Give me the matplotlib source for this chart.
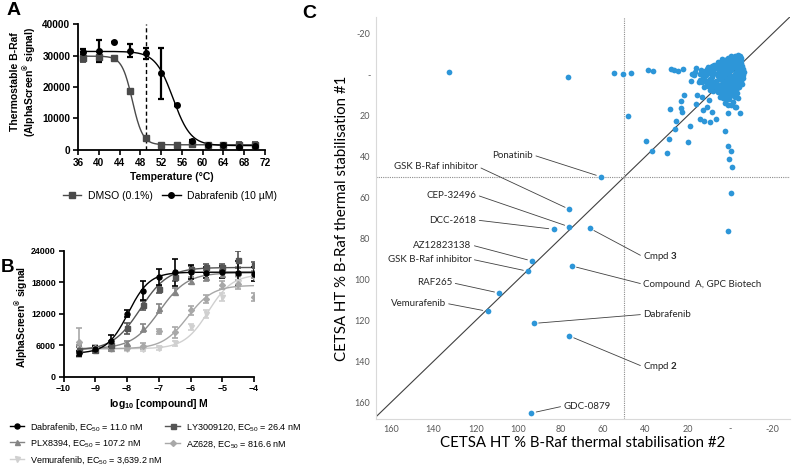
import numpy as np
import matplotlib.pyplot as plt
from matplotlib.lines import Line2D

plt.rcParams['font.family'] = 'Liberation Sans'
plt.rcParams['mathtext.fontset'] = 'custom'
plt.rcParams['mathtext.rm'] = 'Liberation Sans'
plt.rcParams['mathtext.bf'] = 'Lato:bold'

# ---- Panel A: thermal melt curves ----
temps = [37, 40, 43, 46, 49, 52, 55, 58, 61, 64, 67, 70]
dmso = [29300, 29600, 29300, 18800, 3700, 1600, 1600, 1800, 1600, 1700, 1600, 1600]
dmso_err = [1500, 1500, 300, 400, 300, 300, 200, 600, 300, 300, 800, 800]
dabra = [31200, 31500, 34200, 31500, 30700, 24300, 14300, 2900, 1600, 1700, 1000, 1200]
dabra_err = [1000, 3500, 0, 2000, 1700, 8000, 300, 300, 300, 300, 300, 300]
# Boltzmann fit parameters (top, bottom, Tm, slope)
dmso_fit = (29800, 1650, 46.45, 1.0)
dabra_fit = (31300, 1400, 54.3, 1.7)
tm_line = 49

# ---- Panel B: dose response ----
log_conc = [-9.5, -9, -8.5, -8, -7.5, -7, -6.5, -6, -5.5, -5, -4.5, -4]
dab_b = [4400, 5300, 6800, 12000, 16400, 19000, 19900, 19900, 19800, 19900, 19700, 19600]
dab_b_err = [400, 500, 1200, 600, 1800, 1500, 2600, 1300, 1000, 1200, 2300, 1300]
ly_b = [5100, 5000, 6000, 9200, 13600, 16600, 19000, 20500, 20900, 20800, 22300, 21300]
ly_b_err = [500, 500, 800, 1000, 900, 700, 800, 600, 500, 600, 1600, 500]
plx_b = [5400, 5300, 5500, 6300, 9200, 13000, 16200, 18300, 19000, 19500, 20000, 19500]
plx_b_err = [600, 500, 600, 500, 800, 900, 700, 600, 700, 800, 900, 700]
az_b = [6500, 5500, 5400, 5500, 5800, 8600, 8400, 12600, 14800, 17400, 17600, 15200]
az_b_err = [2800, 600, 500, 500, 500, 500, 1000, 800, 800, 800, 900, 700]
vem_b = [5300, 5200, 5300, 5300, 5300, 5400, 6300, 9500, 11900, 15200, 18000, 19000]
vem_b_err = [500, 400, 400, 400, 400, 400, 500, 600, 700, 800, 900, 800]
# 4PL fits (bottom, top, logEC50, hill)
fits_b = [(4400, 19900, -7.96, 1.3), (5000, 20800, -7.58, 1.0), (5300, 19800, -6.97, 1.0),
          (5300, 17400, -6.09, 1.1), (5300, 19500, -5.44, 1.15)]
names_b = ["Dabrafenib, EC$_{\\mathregular{50}}$ = 11.0 nM", "LY3009120, EC$_{\\mathregular{50}}$ = 26.4 nM",
           "PLX8394, EC$_{\\mathregular{50}}$ = 107.2 nM", "AZ628, EC$_{\\mathregular{50}}$ = 816.6 nM",
           "Vemurafenib, EC$_{\\mathregular{50}}$ = 3,639.2 nM"]

# ---- Panel C: CETSA HT screen ----
# dense cluster of inactive compounds near the origin
cluster_x2 = [-4.5, -3.0, -1.5, -5.0, -2.5, 0.0, 1.5, -4.0, -1.0, 3.0, -5.5, 0.8, 4.5, -2.5, 6.0, 2.5,
              -0.5, -4.5, 8.0, 4.0, 10.0, 1.5, -2.0, 6.5, -6.0, 11.5, 3.0, 0.0, 8.5, -3.5, 5.0, 1.5,
              12.0, -1.0, -5.0, 7.0, 3.5, 10.0, 0.5, -2.5, 5.5, 8.0, 2.0, -4.0, 12.5, -0.5, 4.0, 9.5,
              1.5, 6.0, -2.0, 3.0, 0.0, 5.0, -3.5, 2.0, -1.0, 1.0, -2.5, 7.5, 16.0, 14.0, 13.0, 15.0,
              9.5, 11.0, 17.0, -3.0, 2.0, 6.0,
              -3.8, -2.0, -0.5, 1.0, 2.5, -4.8, -3.2, -1.8, 0.8, 3.8, 5.2, -5.2, -3.0, 1.8, 3.5, -1.5,
              -4.0, 5.5, 7.0, 9.0, 2.0, -5.8, -2.8, 0.5, 4.8, 8.0, -1.2, -4.8, 2.5, 6.0, 9.5, -2.0,
              0.0, 4.0, -3.8, 1.5, 6.5, -1.5, -5.5, 8.5, 2.8, -0.8, 3.5, 7.0, 10.5, -3.0, 1.0, 5.0,
              -1.5, 2.5, 8.0, 0.5, -3.0, 4.5, 1.5, -1.0, 3.5, 0.5, -2.0, 2.5, -0.5, 13.5, 11.0, 14.5,
              12.0, 10.5, 8.5, 6.0, 4.0, -4.2, -5.8, -6.2]
cluster_y1 = [-9.0, -8.5, -8.0, -7.0, -6.8, -6.5, -5.8, -5.5, -5.0, -4.8, -4.0, -3.8, -3.5, -3.2, -2.8,
              -2.5, -2.0, -1.8, -1.5, -1.2, -0.8, -0.5, -0.3, 0.0, 0.3, 0.5, 0.8, 1.0, 1.3, 1.5, 2.0,
              2.3, 2.5, 2.8, 3.0, 3.2, 3.8, 4.0, 4.2, 4.5, 5.0, 5.5, 5.8, 6.0, 6.2, 6.8, 7.0, 7.5,
              8.0, 8.5, 8.8, 9.5, 10.5, 11.0, 11.5, 12.5, 13.5, 15.0, 16.0, -4.5, -3.0, -2.0, 1.0,
              3.5, -3.0, -2.5, 0.5, -7.5, -7.0, -6.0,
              -9.5, -9.2, -8.8, -8.0, -7.2, -8.0, -7.5, -6.0, -5.2, -6.0, -5.0, -5.8, -4.5, -4.2, -3.0,
              -3.5, -3.0, -1.8, -3.5, -2.5, -1.5, -2.5, -1.0, 0.0, 0.5, -0.2, 0.8, 1.0, 1.5, 1.0, 2.0,
              2.0, 2.5, 2.8, 3.5, 3.5, 4.5, 3.8, 4.8, 3.5, 4.8, 5.5, 6.0, 6.5, 5.5, 6.8, 6.5, 7.8,
              7.5, 7.2, 8.0, 8.8, 9.2, 9.0, 9.8, 9.5, 11.5, 12.0, 11.0, 13.8, 14.8, 3.5, 4.5, 0.0,
              -1.5, -3.5, -4.0, -5.5, -7.5, -0.5, 1.8, -1.0]
# scattered hits
other_x2 = [132.5, 76.4, 54.8, 50.5, 47.0, 38.7, 36.4, 28.2, 26.6, 24.6, 22.1, 18.0, 16.8, 18.6,
            14.4, 12.8, 21.9, 23.3, 28.5, 23.3, 23.0, 16.4, 25.8, 26.2, 18.8, 14.4, 12.5, 9.5, 6.7,
            12.8, 11.2, 8.7, 15.9, 13.3, 10.0, 48.4, 39.8, 37.0, 28.9, 29.8, 20.2, 2.5, 1.2, -0.2,
            0.6, -0.7, -0.1, 1.3, 1.3, -4.4, -2.1]
other_y1 = [-1.3, 1.1, -0.8, -0.2, -0.8, -2.3, -1.7, -2.5, -2.3, -1.8, -2.6, -0.2, -1.0, 3.1,
            2.7, -0.8, 9.9, 12.8, 16.9, 16.2, 18.3, 14.6, 22.6, 26.8, 25.0, 21.9, 22.6, 23.2, 21.9,
            17.3, 15.7, 18.2, 10.0, 10.9, 12.5, 20.3, 32.3, 37.2, 31.6, 38.2, 33.1, 27.6, 34.8, 37.3,
            41.2, 45.1, 57.7, 76.3, 19.0, 18.7, 15.7]
# labelled compounds
lab_names = ["Ponatinib", "GSK B-Raf inhibitor", "CEP-32496", "DCC-2618", "AZ12823138",
             "GSK B-Raf inhibitor", "RAF265", "Vemurafenib", "Cmpd $\\mathbf{3}$",
             "Compound  A, GPC Biotech", "Dabrafenib", "Cmpd $\\mathbf{2}$", "GDC-0879"]
lab_x2 = [61.0, 75.8, 75.9, 83.3, 93.4, 95.3, 108.9, 114.4, 66.3, 74.7, 92.6, 75.9, 93.7]
lab_y1 = [49.9, 65.8, 74.3, 75.5, 91.0, 96.0, 106.6, 115.5, 75.0, 93.4, 121.4, 127.5, 165.1]
# where each label text sits (data coords) and which side it is anchored
lab_text_pos = [(92.9, 39.3), (118.8, 45.0), (119.6, 58.8), (119.6, 71.0), (121.9, 83.2),
                (121.9, 90.1), (130.9, 101.6), (134.0, 111.6), (41.1, 88.9), (41.1, 102.3),
                (41.1, 117.0), (41.1, 142.5), (78.7, 161.7)]
lab_ha = ["right"] * 8 + ["left"] * 5
threshold = 50

fig = plt.figure(figsize=(7.93, 4.68), dpi=100)


def boltzmann(t, top, bottom, tm, slope):
    return bottom + (top - bottom) / (1 + np.exp((t - tm) / slope))


def four_pl(x, bottom, top, logec50, hill):
    return bottom + (top - bottom) / (1 + 10 ** ((logec50 - x) * hill))


def prism_axes(ax, labelsize=7.2):
    for s in ['top', 'right']:
        ax.spines[s].set_visible(False)
    for s in ['left', 'bottom']:
        ax.spines[s].set_linewidth(1.3)
    ax.tick_params(direction='out', length=3.5, width=1.2, labelsize=labelsize, pad=2)
    for lbl in ax.get_xticklabels() + ax.get_yticklabels():
        lbl.set_fontweight('bold')


# Panel A
axA = fig.add_axes([0.0984, 0.6795, 0.2358, 0.2692])
tt = np.linspace(36.5, 70.5, 300)
c_dmso = '#4a4a4a'
axA.plot(tt, boltzmann(tt, *dmso_fit), color=c_dmso, lw=1.0)
axA.plot(tt, boltzmann(tt, *dabra_fit), color='black', lw=1.0)
axA.errorbar(temps, dmso, yerr=dmso_err, fmt='s', color=c_dmso, ms=4, capsize=2.5, elinewidth=1.3, capthick=1.3)
axA.errorbar(temps, dabra, yerr=dabra_err, fmt='o', color='black', ms=4, capsize=2.5, elinewidth=1.6, capthick=1.6)
axA.axvline(tm_line, color='black', ls=(0, (3, 2)), lw=1.0)
axA.set_xlim(36, 72)
axA.set_ylim(0, 40000)
axA.set_xticks(range(36, 73, 4))
axA.set_yticks(range(0, 40001, 10000))
prism_axes(axA)
axA.set_xlabel('Temperature (°C)', fontsize=7.5, fontweight='bold', labelpad=3)
axA.set_ylabel('Thermostable B-Raf\n(AlphaScreen$^{\\mathregular{®}}$ signal)', fontsize=7.5,
               fontweight='bold', linespacing=1.1)
axA.yaxis.set_label_coords(-0.214, 0.54)
hA = [Line2D([], [], color=c_dmso, marker='s', ms=4, lw=1),
      Line2D([], [], color='black', marker='o', ms=4, lw=1)]
fig.legend(hA, ['DMSO (0.1%)', 'Dabrafenib (10 µM)'], loc='center left',
           bbox_to_anchor=(0.079, 1 - 196 / 468), ncol=2, frameon=False, fontsize=7.5,
           handlelength=1.8, columnspacing=0.9, handletextpad=0.6, borderaxespad=0, borderpad=0)

# Panel B
axB = fig.add_axes([0.0801, 0.1955, 0.2402, 0.2688])
xx = np.linspace(-9.5, -4, 300)
series_b = [(dab_b, dab_b_err, 'o', 'black'), (ly_b, ly_b_err, 's', '#555555'),
            (plx_b, plx_b_err, '^', '#858585'), (az_b, az_b_err, 'D', '#a8a8a8'),
            (vem_b, vem_b_err, 'v', '#d0d0d0')]
handles_b = []
for (vals, errs, mk, col), fit in reversed(list(zip(series_b, fits_b))):
    axB.plot(xx, four_pl(xx, *fit), color=col, lw=1.0)
    axB.errorbar(log_conc, vals, yerr=errs, fmt=mk, color=col, ms=3.6 if mk != 'D' else 3,
                 capsize=2, elinewidth=1.2, capthick=1.2)
for vals, errs, mk, col in series_b:
    handles_b.append(Line2D([], [], color=col, marker=mk, ms=3.6 if mk != 'D' else 3, lw=1))
axB.set_xlim(-10, -4)
axB.set_ylim(0, 24000)
axB.set_xticks(range(-10, -3))
axB.set_yticks(range(0, 24001, 6000))
prism_axes(axB, labelsize=6.4)
axB.set_xlabel('log$_{\\mathregular{10}}$ [compound] M', fontsize=7.5, fontweight='bold', labelpad=3)
axB.set_ylabel('AlphaScreen$^{\\mathregular{®}}$ signal', fontsize=7.4, fontweight='bold')
axB.yaxis.set_label_coords(-0.178, 0.47)
order = [0, 2, 4, 1, 3]
fig.legend([handles_b[i] for i in order], [names_b[i] for i in order], loc='upper left',
           bbox_to_anchor=(0.012, 1 - 421 / 468), ncol=2, frameon=False, fontsize=6.5,
           handlelength=1.6, columnspacing=0.3, handletextpad=0.7, labelspacing=0.55,
           borderaxespad=0, borderpad=0)

# Panel C
cfont = 'Lato'
axC = fig.add_axes([0.474, 0.1047, 0.522, 0.859])
axC.axline((0, 0), slope=1, color='#404040', lw=0.8, zorder=1)
axC.axvline(threshold, color='#8c8c8c', ls=(0, (1, 1)), lw=0.8, zorder=1)
axC.axhline(threshold, color='#8c8c8c', ls=(0, (1, 1)), lw=0.8, zorder=1)
axC.scatter(cluster_x2 + other_x2 + lab_x2, cluster_y1 + other_y1 + lab_y1, s=17,
            color='#2d96d8', linewidths=0, zorder=3)
axC.set_xlim(167, -28)
axC.set_ylim(168, -28)
ticks = list(range(160, -21, -20))
tick_lbls = ['-' if t == 0 else str(t) for t in ticks]
axC.set_xticks(ticks, tick_lbls)
axC.set_yticks(ticks, tick_lbls)
axC.tick_params(length=0, labelsize=6.5, labelcolor='#595959', pad=4)
for lbl in axC.get_xticklabels() + axC.get_yticklabels():
    lbl.set_fontfamily(cfont)
for s in ['top', 'right']:
    axC.spines[s].set_visible(False)
for s in ['left', 'bottom']:
    axC.spines[s].set_color('#d9d9d9')
    axC.spines[s].set_linewidth(0.8)
axC.set_xlabel('CETSA HT % B-Raf thermal stabilisation #2', fontsize=10.8, family=cfont, labelpad=2)
axC.set_ylabel('CETSA HT % B-Raf thermal stabilisation #1', fontsize=10.8, family=cfont, labelpad=4)
for name, px, py, pos, ha in zip(lab_names, lab_x2, lab_y1, lab_text_pos, lab_ha):
    axC.annotate(name, xy=(px, py), xytext=pos, ha=ha, va='center', fontsize=7, family=cfont,
                 color='#262626',
                 arrowprops=dict(arrowstyle='-', color='#404040', lw=0.6, shrinkA=0, shrinkB=3.5,
                                 relpos=(1, 0.5) if ha == 'right' else (0, 0.5)))

fig.text(0.008, 0.995, 'A', fontsize=14, fontweight='bold', va='top')
fig.text(0.001, 0.447, 'B', fontsize=13.5, fontweight='bold', va='top')
fig.text(0.381, 0.99, 'C', fontsize=14, fontweight='bold', va='top')

fig.savefig('out.png', dpi=100)
